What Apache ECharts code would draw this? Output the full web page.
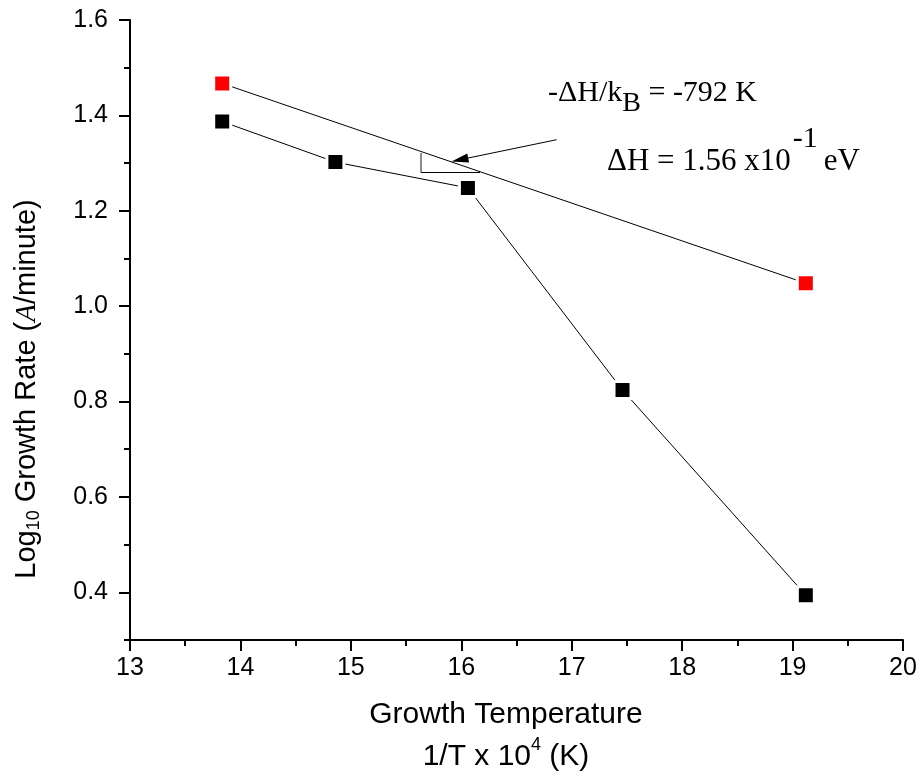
<!DOCTYPE html>
<html>
<head>
<meta charset="utf-8">
<title>Growth rate vs 1/T</title>
<script src="https://cdn.jsdelivr.net/npm/echarts@6/dist/echarts.min.js"></script>
<style>
    html, body {margin: 0; padding: 0; background: #fff;}
    #chartDiv {width: 920px; height: 776px;}
</style>
</head>
<body>
<div id="chartDiv"></div>
<script>
// 数据
var blackX = [13.835, 14.86, 16.06, 17.46, 19.12];
var blackY = [1.387, 1.302, 1.248, 0.824, 0.394];
var redX = [13.835, 19.12];
var redY = [1.467, 1.048];

// 坐标刻度
var yMajorTicks = [0.4, 0.6, 0.8, 1.0, 1.2, 1.4, 1.6];

// 斜率三角形 + 箭头
var slopeX = [15.634, 16.17];
var slopeY = [1.321, 1.281];
var arrowFrom = [16.863, 1.349];
var arrowTo = [15.987, 1.307];

var sansFont = "'Liberation Sans', Arial, sans-serif";
var serifFont = "'Liberation Serif', 'Times New Roman', serif";

function toPairs(xs, ys) {
    var out = [];
    for (var i = 0; i < xs.length; i++) {
        out.push([xs[i], ys[i]]);
    }
    return out;
}

var chart = echarts.init(document.getElementById('chartDiv'), null, {renderer: 'canvas'});

var axisLine = {show: true, onZero: false, lineStyle: {color: '#000', width: 2}};

var option = {
    animation: false,
    backgroundColor: '#fff',
    grid: {left: 130, right: 17, top: 20, bottom: 136},
    xAxis: {
        type: 'value',
        min: 13,
        max: 20,
        interval: 1,
        axisLine: axisLine,
        axisTick: {show: true, length: 11, lineStyle: {color: '#000', width: 2}},
        minorTick: {show: true, splitNumber: 2, length: 6, lineStyle: {color: '#000', width: 2}},
        axisLabel: {color: '#000', fontFamily: sansFont, fontSize: 25, margin: 16},
        splitLine: {show: false}
    },
    yAxis: [
        {
            // 小刻度 + 标签
            type: 'value',
            min: 0.3,
            max: 1.6,
            interval: 0.1,
            axisLine: axisLine,
            axisTick: {show: true, length: 6, lineStyle: {color: '#000', width: 2}},
            axisLabel: {
                color: '#000', fontFamily: sansFont, fontSize: 25, margin: 22,
                customValues: yMajorTicks,
                formatter: function (v) { return v.toFixed(1); }
            },
            splitLine: {show: false}
        },
        {
            // 大刻度
            type: 'value',
            position: 'left',
            min: 0.3,
            max: 1.6,
            interval: 0.1,
            axisLine: {show: false},
            axisTick: {show: true, length: 11, customValues: yMajorTicks, lineStyle: {color: '#000', width: 2}},
            axisLabel: {show: false},
            splitLine: {show: false}
        }
    ],
    series: [
        {
            type: 'line',
            data: toPairs(blackX, blackY),
            symbol: 'rect',
            symbolSize: 17,
            lineStyle: {color: '#000', width: 1},
            itemStyle: {color: '#000', borderColor: '#fff', borderWidth: 3},
            z: 3
        },
        {
            type: 'line',
            data: toPairs(redX, redY),
            symbol: 'rect',
            symbolSize: 17,
            lineStyle: {color: '#000', width: 1},
            itemStyle: {color: '#ff0000', borderColor: '#fff', borderWidth: 3},
            z: 3,
            markLine: {
                silent: true,
                symbol: ['none', 'none'],
                label: {show: false},
                lineStyle: {color: '#000', width: 1, type: 'solid'},
                data: [
                    [{coord: [slopeX[0], slopeY[0]], lineStyle: {color: '#666', width: 1.5}}, {coord: [slopeX[0], slopeY[1]]}],
                    [{coord: [slopeX[0], slopeY[1]]}, {coord: [slopeX[1], slopeY[1]]}],
                    [
                        {coord: arrowFrom, symbol: 'none'},
                        {coord: arrowTo, symbol: 'triangle', symbolSize: [9, 17]}
                    ]
                ]
            }
        }
    ],
    graphic: [
        {
            // -ΔH/kB = -792 K
            type: 'text',
            left: 548,
            top: 78,
            style: {
                text: '{m|-ΔH/k}{s|B}{m| = -792 K}',
                font: '30px ' + serifFont,
                fill: '#000',
                rich: {
                    m: {fontFamily: serifFont, fontSize: 30, verticalAlign: 'top', padding: [0, 0, 0, 0]},
                    s: {fontFamily: serifFont, fontSize: 28, verticalAlign: 'top', padding: [12, 0, 0, 0]}
                }
            }
        },
        {
            // ΔH = 1.56 x10^-1 eV
            type: 'text',
            left: 607,
            top: 124,
            style: {
                text: '{m|ΔH = 1.56 x10}{p|-1}{m|eV}',
                font: '30px ' + serifFont,
                fill: '#000',
                rich: {
                    m: {fontFamily: serifFont, fontSize: 31, verticalAlign: 'top', padding: [22, 0, 0, 0]},
                    p: {fontFamily: serifFont, fontSize: 30, verticalAlign: 'top', padding: [0, 6, 0, 2]}
                }
            }
        },
        {
            // x 轴标题 第一行
            type: 'text',
            x: 506,
            y: 715,
            style: {
                text: 'Growth Temperature',
                font: '30px ' + sansFont,
                fill: '#000',
                align: 'center',
                verticalAlign: 'middle'
            }
        },
        {
            // x 轴标题 第二行
            type: 'text',
            x: 506,
            y: 736,
            style: {
                text: '{m|1/T x 10}{p|4}{m| (K)}',
                font: '30px ' + sansFont,
                fill: '#000',
                align: 'center',
                verticalAlign: 'top',
                rich: {
                    m: {fontFamily: sansFont, fontSize: 30, verticalAlign: 'top', padding: [6, 0, 0, 0]},
                    p: {fontFamily: sansFont, fontSize: 18, verticalAlign: 'top', padding: [0, 0, 0, 0]}
                }
            }
        },
        {
            // y 轴标题
            type: 'text',
            x: 28,
            y: 389,
            rotation: Math.PI / 2,
            style: {
                text: '{m|Log}{s|10}{m| Growth Rate (}{i|A}{m|/minute)}',
                font: '29px ' + sansFont,
                fill: '#000',
                align: 'center',
                verticalAlign: 'middle',
                rich: {
                    m: {fontFamily: sansFont, fontSize: 29, verticalAlign: 'top', padding: [0, 0, 0, 0]},
                    s: {fontFamily: sansFont, fontSize: 18, verticalAlign: 'top', padding: [13, 0, 0, 0]},
                    i: {fontFamily: serifFont, fontSize: 29, fontStyle: 'italic', verticalAlign: 'top', padding: [0, 0, 0, 0]}
                }
            }
        }
    ]
};

chart.setOption(option);
</script>
</body>
</html>
